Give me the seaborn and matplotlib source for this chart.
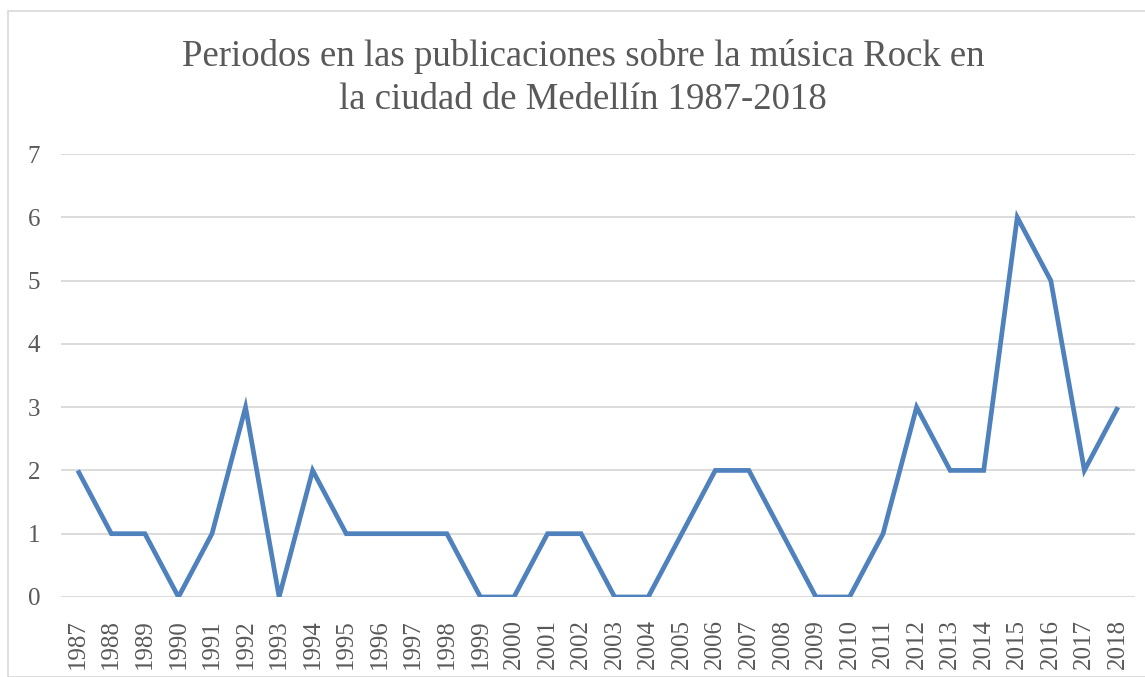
import matplotlib
matplotlib.use("Agg")
import matplotlib.pyplot as plt
import pandas as pd
import seaborn as sns
from matplotlib.patches import Rectangle

# Datos
years = list(range(1987, 2019))
counts = [2, 1, 1, 0, 1, 3, 0, 2, 1, 1, 1, 1, 0, 0, 1, 1,
          0, 0, 1, 2, 2, 1, 0, 0, 1, 3, 2, 2, 6, 5, 2, 3]
title = "Periodos en las publicaciones sobre la música Rock en\nla ciudad de Medellín 1987-2018"

df = pd.DataFrame({"year": years, "count": counts})

sns.set_style("white")
plt.rcParams['font.family'] = ['Liberation Serif', 'DejaVu Serif']

fig = plt.figure(figsize=(11.45, 6.77), dpi=100)
ax = fig.add_axes([0.0533, 0.1182, 0.9377, 0.6543])

sns.lineplot(data=df, x="year", y="count", ax=ax, color="#4F81BD", linewidth=3.4,
             solid_joinstyle="miter", solid_capstyle="butt")

ax.set_xlim(1986.5, 2018.5)
ax.set_ylim(0, 7)
ax.set_yticks(range(0, 8))
ax.set_xticks(years)
ax.set_xticklabels([str(y) for y in years], rotation=90)
ax.tick_params(axis="both", length=0, labelsize=18, colors="#595959")
ax.tick_params(axis="y", pad=15)
ax.tick_params(axis="x", pad=16)
ax.grid(axis="y", color="#D9D9D9", linewidth=1.3)
ax.set_axisbelow(True)
for s in ax.spines.values():
    s.set_visible(False)
ax.set_xlabel("")
ax.set_ylabel("")

fig.text(0.509, 1 - 39 / 677, title, ha="center", va="top", fontsize=26.5,
         color="#595959", linespacing=1.32)

# marco del grafico
fig.patches.append(Rectangle((8 / 1145, 0), 1.0, 1 - 11 / 677, transform=fig.transFigure,
                             fill=False, edgecolor="#D9D9D9", linewidth=1.2))

fig.savefig("out.png", dpi=100)
